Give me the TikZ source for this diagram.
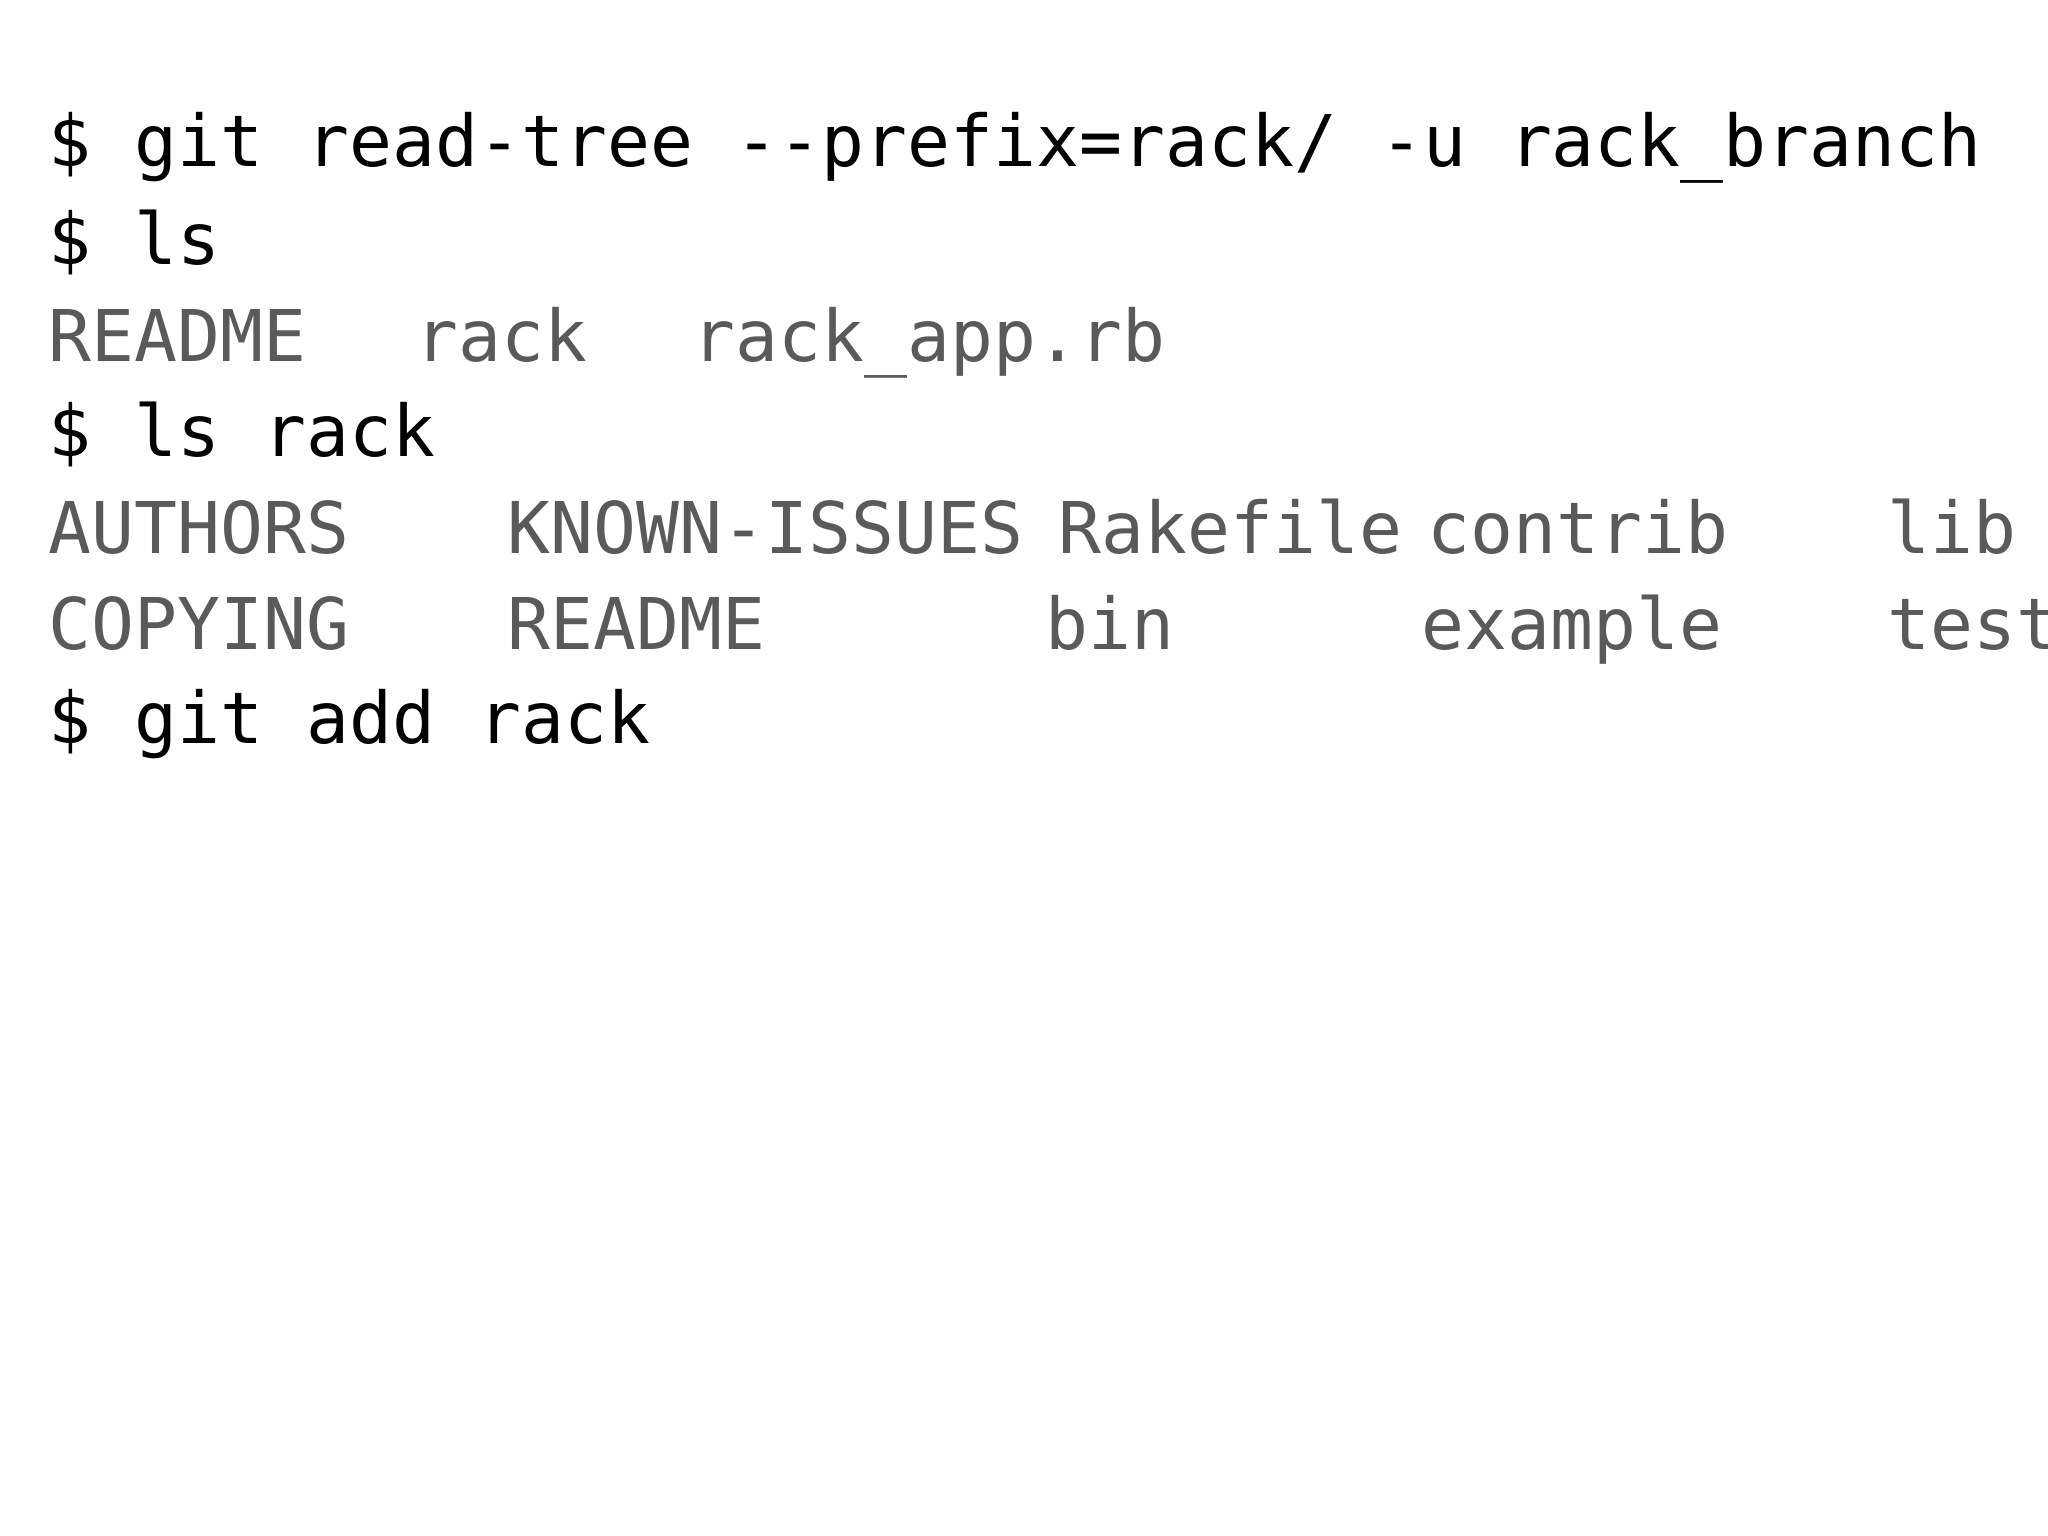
\documentclass[tikz,border=0pt]{standalone}
\usepackage{fontspec}
\setmonofont{DejaVu Sans Mono}
\usepackage{xcolor}
\definecolor{outgrey}{HTML}{5A5A5A}
\tikzset{
  cmdline/.style={anchor=base west, inner sep=0pt, font=\ttfamily\fontsize{20.3pt}{24pt}\selectfont, text=black},
  outline/.style={cmdline, text=outgrey}
}
\begin{document}
\begin{tikzpicture}
    \useasboundingbox (0,0) rectangle (20.48,-15.36);
    \begin{scope}
    \clip (0,0) rectangle (20.48,-7.81);
    % commands
    \node[cmdline] (readtree) at (0.48,-1.67) {\$ git read-tree --prefix=rack/ -u rack\_branch};
    \node[cmdline] (ls) at (0.48,-2.65) {\$ ls};
    \node[cmdline] (lsrack) at (0.48,-4.57) {\$ ls rack};
    \node[cmdline] (gitadd) at (0.48,-7.44) {\$ git add rack};
    \node[cmdline] (prompt) at (0.48,-8.40) {\$};
    % output of ls
    \node[outline] (readme) at (0.48,-3.62) {README};
    \node[outline] (rackdir) at (4.15,-3.62) {rack};
    \node[outline] (rackapp) at (6.92,-3.62) {rack\_app.rb};
    % output of ls rack
    \node[outline] (authors) at (0.48,-5.54) {AUTHORS};
    \node[outline] (known) at (5.07,-5.54) {KNOWN-ISSUES};
    \node[outline] (rakefile) at (10.58,-5.54) {Rakefile};
    \node[outline] (contrib) at (14.27,-5.54) {contrib};
    \node[outline] (lib) at (18.87,-5.54) {lib};
    \node[outline] (copying) at (0.48,-6.49) {COPYING};
    \node[outline] (readme2) at (5.07,-6.49) {README};
    \node[outline] (bin) at (10.45,-6.49) {bin};
    \node[outline] (example) at (14.21,-6.49) {example};
    \node[outline] (test) at (18.87,-6.49) {test};
    \end{scope}
\end{tikzpicture}
\end{document}
